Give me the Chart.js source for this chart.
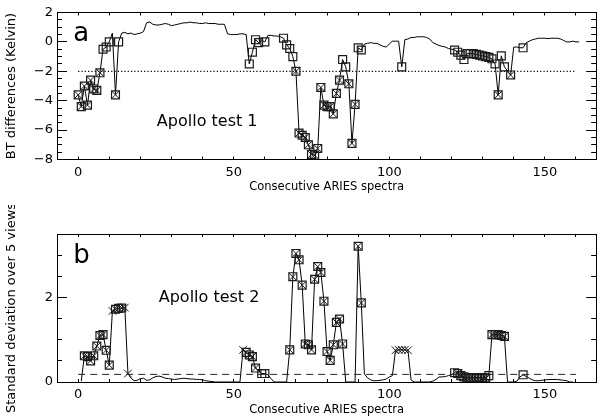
<!DOCTYPE html>
<html>
<head>
<meta charset="utf-8">
<script src="https://cdn.jsdelivr.net/npm/chart.js@4.4.1/dist/chart.umd.min.js"></script>
<style>
  html, body { margin: 0; padding: 0; background: #fff; }
  #wrap { position: relative; width: 603px; height: 419px; overflow: hidden; }
  #wrap canvas { position: absolute; left: 0; }
</style>
</head>
<body>
<div id="wrap">
  <canvas id="panelA" width="603" height="205" style="top:0"></canvas>
  <canvas id="panelB" width="603" height="214" style="top:205px"></canvas>
</div>
<script>
// ---- Panel a: brightness-temperature differences per spectrum ----
const topSpectra = [
  0,1,2,3,4,5,6,7,8,9,10,11,12,13,14,15,16,17,18,19,20,21,22,23,24,25,26,27,28,29,
  30,31,32,33,34,35,36,37,38,39,40,41,42,43,44,45,46,47,48,49,50,51,52,53,54,55,56,57,58,59,
  60,61,62,63,64,65,66,67,68,69,70,71,72,73,74,75,76,77,78,79,80,81,82,83,84,85,86,87,88,89,
  90,91,92,93,94,95,96,97,98,99,100,101,102,103,104,105,106,107,108,109,110,111,112,113,114,
  115,116,117,118,119,120,121,122,123,124,125,126,127,128,129,130,131,132,133,134,135,136,137,
  139,140,141,142,143,144,145,146,147,148,149,150,151,152,153,154,155,156,157,158,159,160,161
];
const topDiff = [
  -3.6,-4.4,-3.0,-4.3,-2.6,-3.2,-3.3,-2.1,-0.5,-0.35,0.0,0.6,-3.6,0.0,0.6,0.65,0.55,0.6,0.5,0.55,
  0.6,0.7,1.3,1.35,1.2,1.15,1.15,1.2,1.25,1.2,
  1.1,1.15,1.2,1.25,1.3,1.3,1.35,1.3,1.3,1.25,1.25,1.3,1.25,1.25,1.25,1.2,1.2,1.2,0.55,0.5,
  0.5,0.5,0.55,0.55,0.5,-1.5,-0.7,0.15,-0.05,0.1,
  0.0,0.45,0.45,0.4,0.4,0.35,0.25,-0.2,-0.45,-1.0,-2.0,-6.2,-6.35,-6.5,-7.0,-7.65,-7.7,-7.25,-3.1,-4.3,
  -4.4,-4.4,-4.9,-3.5,-2.6,-1.2,-1.7,-2.85,-6.9,-4.25,
  -0.4,-0.55,-0.15,-0.1,-0.05,-0.1,-0.1,-0.2,-0.3,-0.35,-0.15,0.05,0.05,0.05,-1.7,0.15,0.2,0.3,0.3,0.35,
  0.35,0.35,0.3,0.2,-0.05,
  -0.15,-0.25,-0.3,-0.35,-0.45,-0.5,-0.55,-0.7,-0.9,-1.2,-0.8,-0.8,-0.8,-0.85,-0.9,-0.95,-1.0,-1.05,-1.15,-1.5,
  -3.6,-0.95,-1.7,
  -2.25,-0.35,-0.35,-0.4,-0.4,-0.05,0.05,0.15,0.2,0.25,0.25,0.25,0.22,0.25,0.25,0.25,0.2,0.1,0.0,0.0,
  0.05,0.0,0.0
];
// spectra flagged with an open box, and with a crossed box
const topBoxed = [8,9,10,13,55,56,57,58,60,66,67,68,69,85,86,90,91,104,
  121,122,123,124,125,126,127,128,129,130,131,132,133,134,136,137,143];
const topCrossed = [0,1,2,3,4,5,6,7,12,70,71,72,73,74,75,76,77,78,79,80,81,82,83,84,
  87,88,89,135,139];
const topThreshold = -2;

// ---- Panel b: standard deviation over the 5 views ----
const botSpectra = [
  1,2,3,4,5,6,7,8,9,10,11,12,13,14,15,16,17,18,19,20,21,22,23,24,25,26,27,28,29,30,
  31,32,33,34,35,36,37,38,39,40,41,42,43,44,46,48,50,52,53,54,55,56,57,59,60,61,62,63,64,66,
  67,68,69,70,71,72,73,74,75,76,77,78,79,80,81,82,83,84,85,86,89,90,91,92,93,94,95,96,97,98,
  99,100,101,102,103,104,105,106,107,108,110,113,114,115,116,117,118,119,120,121,122,123,124,
  125,126,127,128,129,130,131,132,133,134,135,136,137,138,140,141,142,143,144,145,146,147,148,
  150,152,154,156,157,158,159
];
const botStd = [
  0.02,0.62,0.6,0.5,0.62,0.85,1.1,1.12,0.75,0.4,1.68,1.72,1.74,1.75,1.76,0.2,0.09,0.03,0.04,0.08,
  0.09,0.04,0.05,0.1,0.13,0.14,0.12,0.09,0.08,0.07,
  0.06,0.07,0.08,0.09,0.08,0.07,0.07,0.06,0.06,0.05,0.03,0.02,0.01,0.0,0.0,0.0,0.0,0.0,0.76,0.7,
  0.64,0.6,0.33,0.2,0.2,0.17,0.08,0.0,0.0,0.0,
  0.0,0.76,2.49,3.04,2.89,2.29,0.9,0.88,0.76,2.43,2.73,2.59,1.91,0.72,0.51,0.88,1.41,1.49,0.9,0.0,
  0.0,3.21,1.87,0.19,0.1,0.05,0.03,0.03,0.04,0.05,
  0.07,0.12,0.15,0.75,0.76,0.76,0.76,0.75,0.05,0.0,0.0,0.0,0.02,0.06,0.12,0.12,0.13,0.15,0.17,0.22,
  0.2,0.15,0.12,
  0.1,0.1,0.1,0.1,0.1,0.1,0.1,0.15,1.12,1.12,1.12,1.1,1.08,0.0,0.0,0.02,0.12,0.17,0.13,0.09,
  0.05,0.03,0.03,
  0.05,0.06,0.06,0.04,0.03,0.0,0.0
];
const botBoxed = [59,60,121,132,143];
const botCrossed = [2,3,4,5,6,7,8,9,10,12,13,14,54,55,56,57,68,69,70,71,72,73,74,75,76,77,78,79,
  80,81,82,83,84,85,90,91,122,123,124,125,126,127,128,129,130,131,133,134,135,136,137];
const botStarred = [11,15,16,53,102,103,104,105,106];
const botThreshold = 0.18;

// ---- shared axes ----
const spectraRange = [-6.8, 166.5];
const spectraTicks = [0, 50, 100, 150];
const topRange = [-8, 2];
const topTicks = [-8, -6, -4, -2, 0, 2];
const botRange = [0, 3.5];
const botTicks = [0, 2];

const FONT = "'DejaVu Sans', 'Liberation Sans', sans-serif";

function pairs(xs, ys) { return xs.map((x, i) => ({ x, y: ys[i] })); }
function pick(xs, ys, list) {
  return list.map(v => ({ x: v, y: ys[xs.indexOf(v)] }));
}
function steps(lo, hi, step) {
  const out = [];
  for (let i = 0; lo + i * step <= hi + 1e-9; i++) out.push(+(lo + i * step).toFixed(6));
  return out;
}
const minus = v => String(v).replace('-', '\u2212');

// panel letter and test name
function panelText(cfg) {
  return {
    id: 'panelText',
    afterDraw(chart) {
      const ctx = chart.ctx;
      const xs = chart.scales.x, ys = chart.scales.y;
      ctx.save();
      ctx.fillStyle = '#000';
      ctx.textBaseline = 'alphabetic';
      ctx.textAlign = 'left';
      for (const t of cfg.labels) {
        ctx.font = t.font;
        ctx.fillText(t.text, xs.getPixelForValue(t.x), ys.getPixelForValue(t.y));
      }
      ctx.restore();
    }
  };
}

// one side of the frame: border line plus inward tick marks
function sideAxis(position, range, tickValues, tickLen, size, weight, withBorder, extra) {
  const horizontal = position === 'top' || position === 'bottom';
  return Object.assign({
    type: 'linear', position, weight,
    min: range[0], max: range[1],
    grid: { display: true, drawOnChartArea: false, drawTicks: true, tickLength: -tickLen,
            color: '#000', lineWidth: 1 },
    border: { display: withBorder, color: '#000', width: 1 },
    afterBuildTicks: s => { s.ticks = tickValues.map(v => ({ value: v })); },
    afterFit: s => {
      if (horizontal) s.height = size; else s.width = size;
      // labels sit beside the frame; they must not push the plot area around
      s.paddingTop = 0; s.paddingBottom = 0; s.paddingLeft = 0; s.paddingRight = 0;
    },
    ticks: { autoSkip: false, maxRotation: 0, callback: () => '' }
  }, extra || {});
}

function makePanel(canvasId, cfg) {
  const xAll = steps(0, 160, 10);
  const yMinor = steps(cfg.range[0], cfg.range[1], 0.5);
  const tickFont = { family: FONT, size: 13 };

  const datasets = [
    { data: pairs(cfg.xs, cfg.ys), borderColor: '#000', borderWidth: 1, pointRadius: 0,
      showLine: true, tension: 0, order: 5 },
    { data: [{ x: 0, y: cfg.threshold }, { x: 160, y: cfg.threshold }],
      borderColor: cfg.thresholdColor, borderWidth: cfg.thresholdWidth, borderDash: cfg.dash,
      pointRadius: 0, showLine: true, order: 4 },
    { data: pick(cfg.xs, cfg.ys, cfg.boxed.concat(cfg.crossed).sort((a, b) => a - b)),
      showLine: false, pointStyle: 'rect', pointRadius: 5.6, borderWidth: 1.2,
      borderColor: '#1a1a1a', backgroundColor: 'rgba(0,0,0,0)', order: 2 },
    { data: pick(cfg.xs, cfg.ys, cfg.crossed.concat(cfg.starred || []).sort((a, b) => a - b)),
      showLine: false, pointStyle: 'crossRot', pointRadius: 5.4, borderWidth: 1,
      borderColor: '#1a1a1a', backgroundColor: 'rgba(0,0,0,0)', order: 1 }
  ];

  const scales = {
    x: sideAxis('bottom', spectraRange, xAll, 3, cfg.xAxisH, 1, true, {
      ticks: { autoSkip: false, maxRotation: 0, padding: 8, color: '#000', font: tickFont,
               callback: v => spectraTicks.includes(v) ? minus(v) : '' },
      title: { display: true, text: 'Consecutive ARIES spectra', color: '#000',
               font: { family: FONT, size: 11.5 }, padding: { top: 0, bottom: cfg.xTitlePad } }
    }),
    xTop: sideAxis('top', spectraRange, xAll, 3, cfg.padTop, 1, true),
    y: sideAxis('left', cfg.range, cfg.ticks, 10, 57, 1, true, {
      ticks: { autoSkip: false, padding: 14, color: '#000', font: tickFont,
               callback: v => minus(v) },
      title: { display: true, text: cfg.yTitle, color: '#000',
               font: { family: FONT, size: 13 }, padding: { top: 4, bottom: 0 } }
    }),
    yMinor: sideAxis('left', cfg.range, yMinor, 5, 0, 0, false),
    yRight: sideAxis('right', cfg.range, cfg.ticks, 10, 1, 1, true),
    yRightMinor: sideAxis('right', cfg.range, yMinor, 5, 0, 0, false)
  };

  return new Chart(document.getElementById(canvasId), {
    type: 'line',
    data: { datasets },
    plugins: [panelText(cfg)],
    options: {
      responsive: false,
      animation: false,
      events: [],
      layout: { padding: 0 },
      plugins: { legend: { display: false }, tooltip: { enabled: false } },
      scales
    }
  });
}

makePanel('panelA', {
  xs: topSpectra, ys: topDiff, boxed: topBoxed, crossed: topCrossed,
  threshold: topThreshold, dash: [1.2, 2.1], thresholdColor: '#000', thresholdWidth: 1.2,
  range: topRange, ticks: topTicks,
  padTop: 12.5, xAxisH: 45.5, xTitlePad: 11,
  yTitle: 'BT differences (Kelvin)',
  labels: [
    { text: 'a', x: -1.6, y: 0.06, font: `26px ${FONT}` },
    { text: 'Apollo test 1', x: 25.3, y: -5.72, font: `16px ${FONT}` }
  ]
});

makePanel('panelB', {
  xs: botSpectra, ys: botStd, boxed: botBoxed, crossed: botCrossed, starred: botStarred,
  threshold: botThreshold, dash: [7, 5], thresholdColor: '#222', thresholdWidth: 1,
  range: botRange, ticks: botTicks,
  padTop: 29, xAxisH: 37, xTitlePad: 2,
  yTitle: 'Standard deviation over 5 views',
  labels: [
    { text: 'b', x: -1.6, y: 2.81, font: `26px ${FONT}` },
    { text: 'Apollo test 2', x: 25.9, y: 1.89, font: `16px ${FONT}` }
  ]
});
</script>
</body>
</html>
